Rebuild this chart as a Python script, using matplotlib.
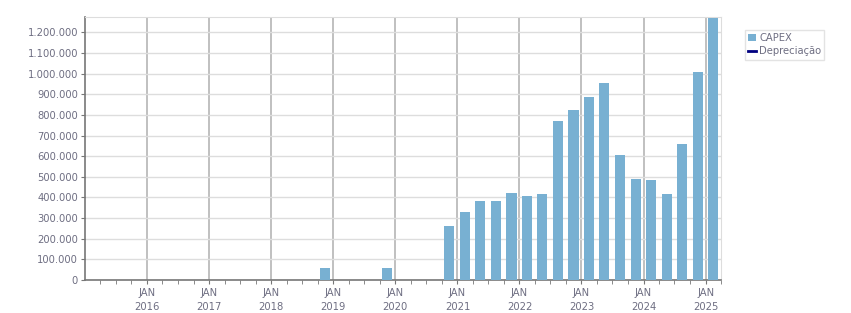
import matplotlib
matplotlib.use("Agg")
import matplotlib.pyplot as plt
import matplotlib.dates as mdates
import matplotlib.ticker as mticker
from matplotlib.lines import Line2D
from matplotlib.patches import Patch
import datetime as dt

# Quarterly CAPEX (quarter mid-points), Q1 2015 .. Q1 2025
quarters = [(y, q) for y in range(2015, 2026) for q in range(1, 5)][:41]
capex = [0, 0, 0, 0,          # 2015
         0, 0, 0, 0,          # 2016
         0, 0, 0, 0,          # 2017
         0, 0, 0, 60000,      # 2018
         0, 0, 0, 60000,      # 2019
         0, 0, 0, 264000,     # 2020
         332000, 385000, 385000, 424000,   # 2021
         405000, 415000, 769000, 822000,   # 2022
         886000, 954000, 604000, 492000,   # 2023
         483000, 415000, 657000, 1007000,  # 2024
         1270000]                          # 2025
year_labels = [str(y) for y in range(2016, 2026)]

def qmid(y, q):
    start = dt.date(y, 3 * (q - 1) + 1, 1)
    return start + dt.timedelta(days=45)

dates = [qmid(y, q) for y, q in quarters]

label_color = "#6e6e82"
fig = plt.figure(figsize=(8.51, 3.13), dpi=100)
ax = fig.add_axes([85 / 851, 1 - 280 / 313, (721 - 85) / 851, (280 - 17) / 313])

ax.bar(dates, capex, width=59, color="#78b0d2", zorder=3)

ax.set_xlim(dt.date(2015, 1, 1), dt.date(2025, 4, 1))
ax.set_ylim(0, 1275000)

ax.yaxis.set_major_locator(mticker.MultipleLocator(100000))
ax.yaxis.set_major_formatter(mticker.FuncFormatter(lambda v, p: f"{int(v):,}".replace(",", ".")))

major = [dt.date(int(y), 1, 1) for y in year_labels]
ax.set_xticks(major)
ax.set_xticklabels([f"JAN\n{y}" for y in year_labels])
ax.xaxis.set_minor_locator(mdates.MonthLocator(bymonth=[4, 7, 10]))

ax.grid(axis="y", color="#dddddd", linewidth=1, zorder=0)
ax.grid(axis="x", which="major", color="#b5b5b5", linewidth=1.2, zorder=0)

for s in ["top", "right"]:
    ax.spines[s].set_color("#dddddd")
for s in ["left", "bottom"]:
    ax.spines[s].set_color("#777777")
    ax.spines[s].set_linewidth(1.2)

ax.tick_params(axis="both", which="both", colors="#777777", labelcolor=label_color,
               labelsize=7.2, length=3, direction="out", pad=2)
ax.tick_params(axis="x", which="major", pad=3)
for lab in ax.get_xticklabels():
    lab.set_linespacing(1.5)

handles = [Patch(facecolor="#78b0d2", edgecolor="none", label="CAPEX"),
           Line2D([0], [0], color="#000080", linewidth=2, label="Depreciação")]
leg = fig.legend(handles=handles, loc="upper left", bbox_to_anchor=(745 / 851, 1 - 30 / 313),
                 frameon=True, fontsize=7.2, handlelength=0.8, handleheight=0.8,
                 handletextpad=0.3, borderpad=0.3, labelspacing=0.35, fancybox=False,
                 borderaxespad=0)
leg.get_frame().set_edgecolor("#dddddd")
leg.get_frame().set_linewidth(1)
for t in leg.get_texts():
    t.set_color(label_color)

fig.savefig("out.png", dpi=100)
